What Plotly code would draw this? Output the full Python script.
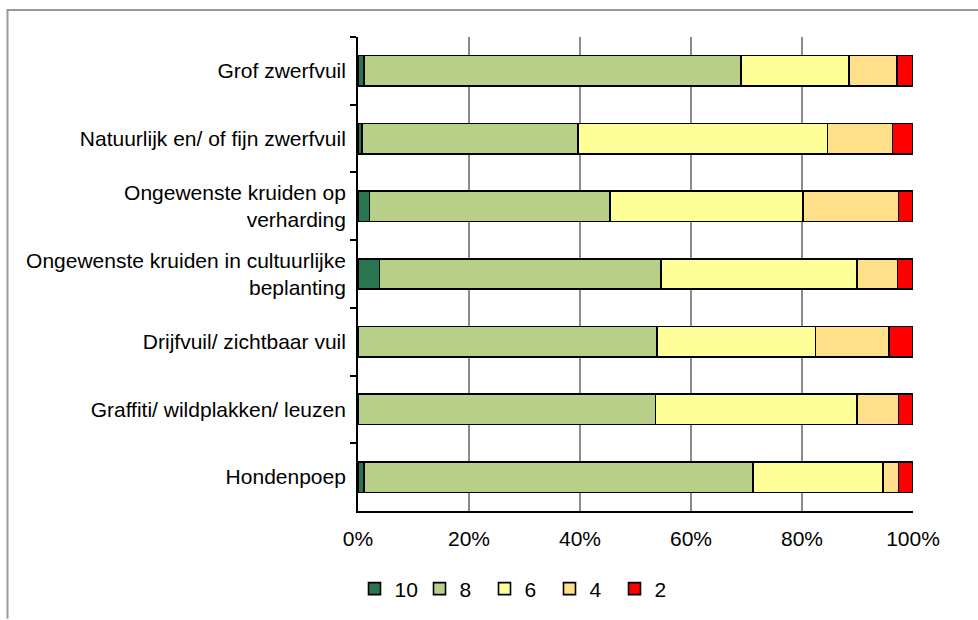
import plotly.graph_objects as go

categories = [
    "Grof zwerfvuil",
    "Natuurlijk en/ of fijn zwerfvuil",
    "Ongewenste kruiden op<br>verharding",
    "Ongewenste kruiden in cultuurlijke<br>beplanting",
    "Drijfvuil/ zichtbaar vuil",
    "Graffiti/ wildplakken/ leuzen",
    "Hondenpoep",
]

score_10 = [1.1, 0.7, 2.1, 3.9, 0.0, 0.0, 1.1]
score_8 = [67.9, 38.9, 43.3, 50.7, 53.9, 53.6, 70.1]
score_6 = [19.5, 45.0, 34.8, 35.3, 28.5, 36.3, 23.4]
score_4 = [8.6, 11.7, 17.2, 7.3, 13.3, 7.5, 2.8]
score_2 = [2.9, 3.7, 2.6, 2.8, 4.3, 2.6, 2.6]

series_names = ["10", "8", "6", "4", "2"]
series_values = [score_10, score_8, score_6, score_4, score_2]
series_colors = ["#287550", "#B8CF8A", "#FFFF99", "#FFE08A", "#FF0000"]

x_ticks = [0, 20, 40, 60, 80, 100]
x_tick_labels = ["0%", "20%", "40%", "60%", "80%", "100%"]

FONT = "Liberation Sans, Arial, sans-serif"

fig = go.Figure()
for name, vals, col in zip(series_names, series_values, series_colors):
    fig.add_trace(go.Bar(
        y=categories, x=vals, name=name, orientation="h",
        marker=dict(color=col, line=dict(color="#000000", width=1.6)),
    ))

# plot area in px: left 358, right 913, top 37, bottom 512
L, R, T, B = 358, 913, 37, 512
W, H = 978, 620
pw, ph = R - L, B - T

def px_x(p):
    return (p - L) / pw

def px_y(p):
    return (B - p) / ph

fig.update_layout(
    width=W, height=H,
    margin=dict(l=L, r=W - R, t=T, b=H - B, pad=0),
    barmode="stack",
    bargap=0.55,
    plot_bgcolor="white",
    paper_bgcolor="white",
    font=dict(family=FONT, size=21, color="#000000"),
    showlegend=True,
    legend=dict(
        orientation="h",
        x=px_x(517), xanchor="center",
        y=px_y(589), yanchor="middle",
        font=dict(size=21, family=FONT, color="#000000"),
        traceorder="normal",
        itemwidth=30,
        entrywidth=20,
        entrywidthmode="pixels",
        bgcolor="rgba(0,0,0,0)",
    ),
    xaxis=dict(
        range=[0, 100],
        tickvals=x_ticks,
        ticktext=x_tick_labels,
        showgrid=True,
        gridcolor="#8C8C8C",
        gridwidth=1.5,
        zeroline=False,
        showline=True,
        linecolor="#000000",
        linewidth=1.5,
        ticks="",
        ticklabelstandoff=8,
        tickfont=dict(size=21, family=FONT, color="#000000"),
    ),
    yaxis=dict(
        autorange="reversed",
        showgrid=False,
        zeroline=False,
        showline=True,
        linecolor="#000000",
        linewidth=1.8,
        ticks="outside",
        tickson="boundaries",
        ticklen=6,
        tickwidth=1.5,
        tickcolor="#000000",
        ticklabelstandoff=6,
        tickfont=dict(size=21, family=FONT, color="#000000"),
    ),
    shapes=[
        dict(type="line", xref="paper", yref="paper", layer="above",
             x0=px_x(7), x1=px_x(978), y0=px_y(10), y1=px_y(10),
             line=dict(color="#999999", width=2)),
        dict(type="line", xref="paper", yref="paper", layer="above",
             x0=px_x(7.5), x1=px_x(7.5), y0=px_y(9), y1=px_y(620),
             line=dict(color="#999999", width=2)),
    ],
)

fig.write_html("out.html", config={"displayModeBar": False},
               post_script="document.body.style.margin='0';")
